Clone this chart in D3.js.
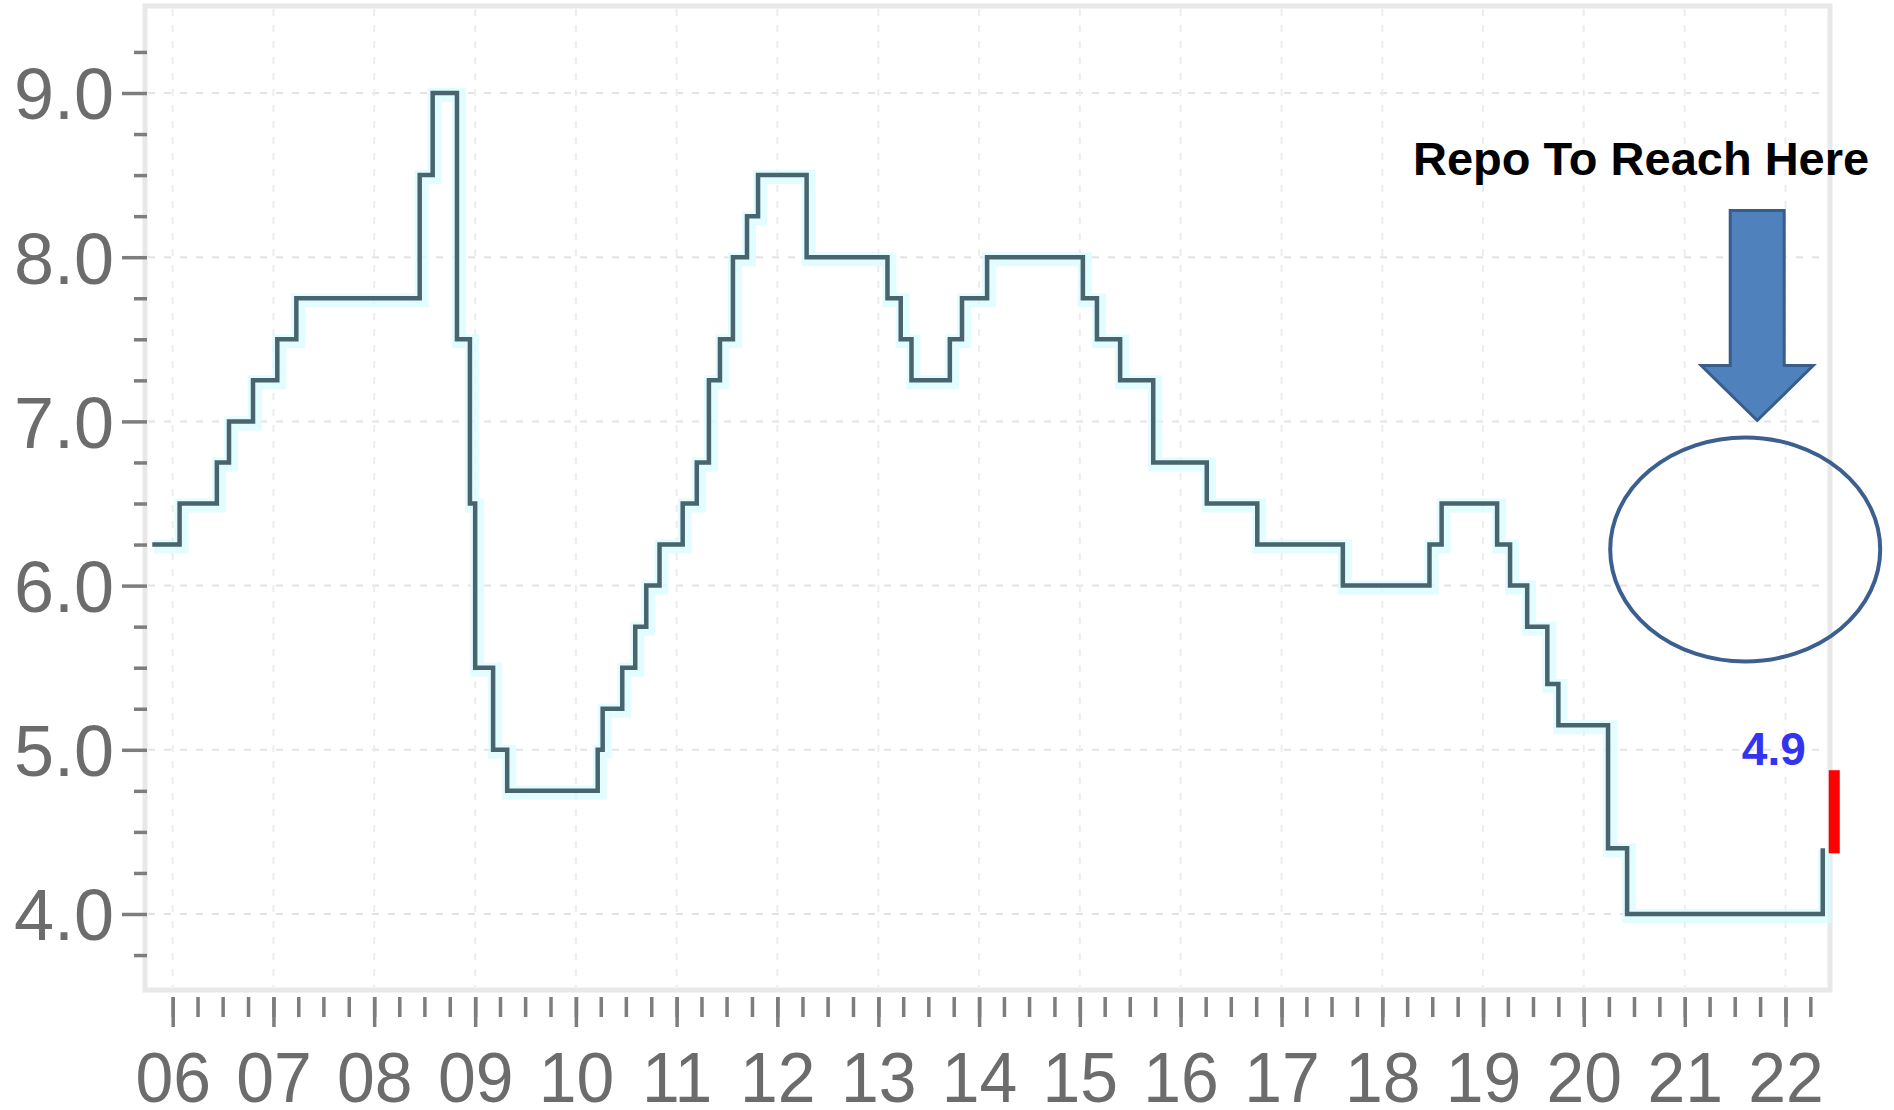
<!DOCTYPE html>
<html><head><meta charset="utf-8">
<script src="https://cdn.jsdelivr.net/npm/d3@7"></script>
<style>body{margin:0;background:#fff}svg{display:block}</style>
</head><body>
<svg id="c" width="1894" height="1110"></svg>
<script>
// Dates on which the repo rate changed and the new rate
const changeDates = [
  "2005-10-19","2006-01-26","2006-06-10","2006-07-24","2006-10-19","2007-01-15","2007-03-25",
  "2008-06-14","2008-07-31","2008-10-27","2008-12-13","2009-01-01","2009-03-07","2009-04-27",
  "2010-03-21","2010-04-08","2010-06-18","2010-08-04","2010-09-13","2010-10-31",
  "2011-01-23","2011-03-15","2011-04-28","2011-06-07","2011-07-24","2011-09-13","2011-10-23",
  "2012-04-16","2013-02-03","2013-03-23","2013-05-01","2013-09-17","2013-10-31","2014-01-30",
  "2015-01-12","2015-03-04","2015-05-27","2015-09-24","2016-04-05","2016-10-05","2017-08-11",
  "2018-06-21","2018-08-04","2019-02-21","2019-04-09","2019-06-10","2019-08-22","2019-10-01",
  "2020-03-29","2020-06-06","2022-05-16"
];
const repoRates = [
  6.25,6.5,6.75,7.0,7.25,7.5,7.75,
  8.5,9.0,7.5,6.5,5.5,5.0,4.75,
  5.0,5.25,5.5,5.75,6.0,6.25,
  6.5,6.75,7.25,7.5,8.0,8.25,8.5,
  8.0,7.75,7.5,7.25,7.5,7.75,8.0,
  7.75,7.5,7.25,6.75,6.5,6.25,6.0,
  6.25,6.5,6.25,6.0,5.75,5.4,5.15,
  4.4,4.0,4.4
];
const yearTicks = ["2006","2007","2008","2009","2010","2011","2012","2013","2014","2015","2016","2017","2018","2019","2020","2021","2022"];
const yMajorTicks = [4,5,6,7,8,9];
const yMinorTicks = [3.75,4.25,4.5,4.75,5.25,5.5,5.75,6.25,6.5,6.75,7.25,7.5,7.75,8.25,8.5,8.75,9.25];
const expectedRate = 4.9;
const annotationTitle = "Repo To Reach Here";

const parse = d3.utcParse("%Y-%m-%d");
const data = changeDates.map((d,i)=>({date:parse(d), rate:repoRates[i]}));
const years = yearTicks.map(y=>d3.utcParse("%Y")(y));

const svg = d3.select("#c");
const frame = {left:145, right:1830, top:6, bottom:990};

const x = d3.scaleUtc().domain([years[0], years[years.length-1]]).range([172.7, 1785.5]);
const y = d3.scaleLinear().domain([4,9]).range([914,93]);

// frame
svg.append("rect").attr("x",frame.left).attr("y",frame.top)
  .attr("width",frame.right-frame.left).attr("height",frame.bottom-frame.top)
  .attr("fill","#fff").attr("stroke","#e8e8e8").attr("stroke-width",5);

// grid
const grid = svg.append("g").attr("stroke","#e3e3e3").attr("stroke-width",2).attr("stroke-dasharray","7,9");
grid.selectAll("line.h").data(yMajorTicks).join("line").attr("class","h")
  .attr("x1",frame.left+3).attr("x2",frame.right-3).attr("y1",d=>y(d)).attr("y2",d=>y(d));
grid.selectAll("line.v").data(years).join("line").attr("class","v")
  .attr("x1",d=>x(d)).attr("x2",d=>x(d)).attr("y1",frame.top+3).attr("y2",frame.bottom-3)
  .attr("stroke","#ededed");

// line
const line = d3.line().x(d=>x(d.date)).y(d=>y(d.rate)).curve(d3.curveStepAfter);
svg.append("path").datum(data).attr("d",line).attr("fill","none")
  .attr("stroke","#d6fbff").attr("stroke-width",14).attr("stroke-opacity",0.7)
  .attr("transform","translate(2,2)");
svg.append("path").datum(data).attr("d",line).attr("fill","none")
  .attr("stroke","#48646e").attr("stroke-width",4.5).attr("stroke-linejoin","miter");

// axes
const tickColor = "#7d7d7d", labelColor = "#6c6c6c";
function styleAxis(g){
  g.select(".domain").remove();
  g.selectAll(".tick line").attr("stroke",tickColor).attr("stroke-width",3.5);
}
function condense(g, f){
  g.selectAll("text").each(function(){
    const L = this.getComputedTextLength();
    d3.select(this).attr("textLength", L*f).attr("lengthAdjust","spacingAndGlyphs");
  });
}
const yMinor = svg.append("g").attr("transform",`translate(${frame.left+2},0)`)
  .call(d3.axisLeft(y).tickValues(yMinorTicks).tickSize(13).tickFormat(""));
styleAxis(yMinor);
const yMajor = svg.append("g").attr("transform",`translate(${frame.left+2},0)`)
  .call(d3.axisLeft(y).tickValues(yMajorTicks).tickSize(25).tickPadding(8).tickFormat(d3.format(".1f")));
styleAxis(yMajor);
yMajor.selectAll("text").attr("font-family","'Liberation Sans', Arial, sans-serif")
  .attr("font-size",72).attr("fill",labelColor).attr("dy","0.36em");

const quarters = d3.utcMonth.every(3).range(years[0], d3.utcMonth.offset(years[years.length-1],4));
const xMinor = svg.append("g").attr("transform",`translate(0,${frame.bottom+7})`)
  .call(d3.axisBottom(x).tickValues(quarters).tickSize(20).tickFormat(""));
styleAxis(xMinor);
const xMajor = svg.append("g").attr("transform",`translate(0,${frame.bottom+7})`)
  .call(d3.axisBottom(x).tickValues(years).tickSize(30).tickFormat(d3.utcFormat("%y")));
styleAxis(xMajor);
xMajor.selectAll("text").attr("font-family","'Liberation Sans', Arial, sans-serif")
  .attr("font-size",70).attr("fill",labelColor).attr("y",105).attr("dy",0);
condense(xMajor, 0.97);

// annotations
const last = data[data.length-1];
const barX = x(last.date)+6;
svg.append("rect").attr("x",barX).attr("y",y(expectedRate)+4)
  .attr("width",11).attr("height",y(last.rate)-y(expectedRate)+1).attr("fill","#ff0000");
svg.append("text").attr("x",barX-23).attr("y",y(expectedRate)-1).attr("text-anchor","end")
  .attr("font-family","'Liberation Sans', Arial, sans-serif").attr("font-weight","bold")
  .attr("font-size",46).attr("fill","#3333f0").text(d3.format(".1f")(expectedRate));

const ellCx = x(parse("2021-08-08")), ellCy = y(6.22);
svg.append("ellipse").attr("cx",ellCx).attr("cy",ellCy).attr("rx",135).attr("ry",112)
  .attr("fill","none").attr("stroke","#3b5f8e").attr("stroke-width",4);

const ax = ellCx+12, tipY = ellCy-129;
const arrow = d3.path();
arrow.moveTo(ax-27, tipY-210); arrow.lineTo(ax+27, tipY-210); arrow.lineTo(ax+27, tipY-55);
arrow.lineTo(ax+56, tipY-55); arrow.lineTo(ax, tipY); arrow.lineTo(ax-56, tipY-55);
arrow.lineTo(ax-27, tipY-55); arrow.closePath();
svg.append("path").attr("d",arrow.toString()).attr("fill","#4f81bd").attr("stroke","#385d8a").attr("stroke-width",3);

svg.append("text").attr("x",1413).attr("y",175)
  .attr("font-family","'Liberation Sans', Arial, sans-serif").attr("font-weight","bold")
  .attr("font-size",47).attr("fill","#000").text(annotationTitle);
</script>
</body></html>
